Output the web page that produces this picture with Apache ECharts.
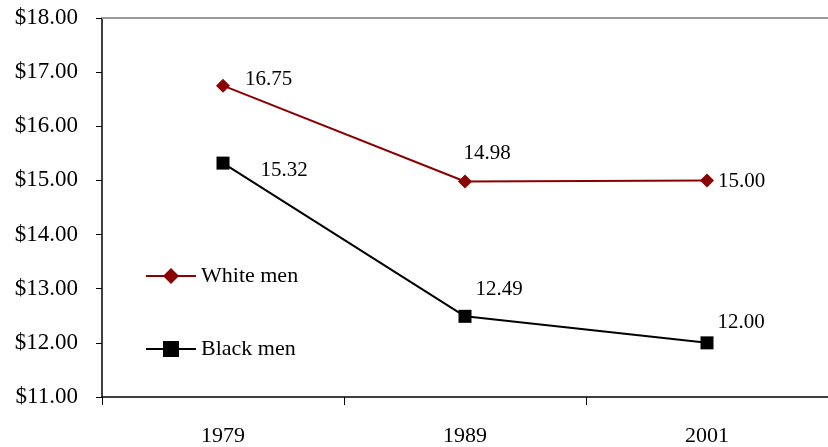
<!DOCTYPE html>
<html>
<head>
<meta charset="utf-8">
<script src="https://cdn.jsdelivr.net/npm/echarts@6/dist/echarts.min.js"></script>
<style>
  html, body { margin: 0; padding: 0; background: #fff; }
  #chart { width: 828px; height: 447px; }
</style>
</head>
<body>
<div id="chart"></div>
<script>
// Median hourly wages by year
const years = ['1979', '1989', '2001'];
const whiteMen = [16.75, 14.98, 15.00];
const blackMen = [15.32, 12.49, 12.00];
const yTicks = [11, 12, 13, 14, 15, 16, 17, 18];

const FONT = '"Liberation Serif", "Times New Roman", serif';

// label placement per point: [position, offset]
const whiteLabelPos = [['right', [10, -6]], ['top', [22, -6]], ['right', [-1, 1]]];
const blackLabelPos = [['right', [26, 7]], ['top', [34, -5]], ['top', [34, 2]]];

function points(values, placement) {
  return values.map((v, i) => ({
    value: v,
    label: { position: placement[i][0], offset: placement[i][1] }
  }));
}

const chart = echarts.init(document.getElementById('chart'));
chart.setOption({
  animation: false,
  grid: { left: 102, right: -6, top: 18, bottom: 50 },
  legend: {
    orient: 'vertical',
    left: 140, top: 260,
    itemGap: 51,
    itemWidth: 50, itemHeight: 20,
    textStyle: { fontFamily: FONT, fontSize: 22, color: '#000' },
    data: ['White men', 'Black men']
  },
  xAxis: [
    {
      type: 'category',
      data: years,
      boundaryGap: true,
      axisLine: { lineStyle: { color: '#000', width: 1.5 } },
      axisTick: { show: true, length: 8, lineStyle: { color: '#000' } },
      axisLabel: { fontFamily: FONT, fontSize: 22, color: '#000', margin: 28 },
      splitLine: { show: false }
    },
    {
      // gray frame line along the top of the plot
      type: 'category',
      data: years,
      position: 'top',
      axisLine: { show: true, lineStyle: { color: '#9a9a9a', width: 2 } },
      axisTick: { show: false },
      axisLabel: { show: false },
      splitLine: { show: false }
    }
  ],
  yAxis: {
    type: 'value',
    min: yTicks[0], max: yTicks[yTicks.length - 1], interval: 1,
    axisLine: { show: true, lineStyle: { color: '#000', width: 1.5 } },
    axisTick: { show: true, length: 6, lineStyle: { color: '#000' } },
    axisLabel: {
      fontFamily: FONT, fontSize: 23, color: '#000', margin: 24,
      formatter: v => '$' + v.toFixed(2)
    },
    splitLine: { show: false }
  },
  series: [
    {
      name: 'White men',
      type: 'line',
      data: points(whiteMen, whiteLabelPos),
      symbol: 'diamond', symbolSize: 14,
      lineStyle: { color: '#8B0000', width: 2 },
      itemStyle: { color: '#8B0000' },
      label: {
        show: true, fontFamily: FONT, fontSize: 21, color: '#000',
        formatter: p => p.value.toFixed(2)
      }
    },
    {
      name: 'Black men',
      type: 'line',
      data: points(blackMen, blackLabelPos),
      symbol: 'rect', symbolSize: 13,
      lineStyle: { color: '#000', width: 2 },
      itemStyle: { color: '#000' },
      label: {
        show: true, fontFamily: FONT, fontSize: 21, color: '#000',
        formatter: p => p.value.toFixed(2)
      }
    }
  ]
});
</script>
</body>
</html>
